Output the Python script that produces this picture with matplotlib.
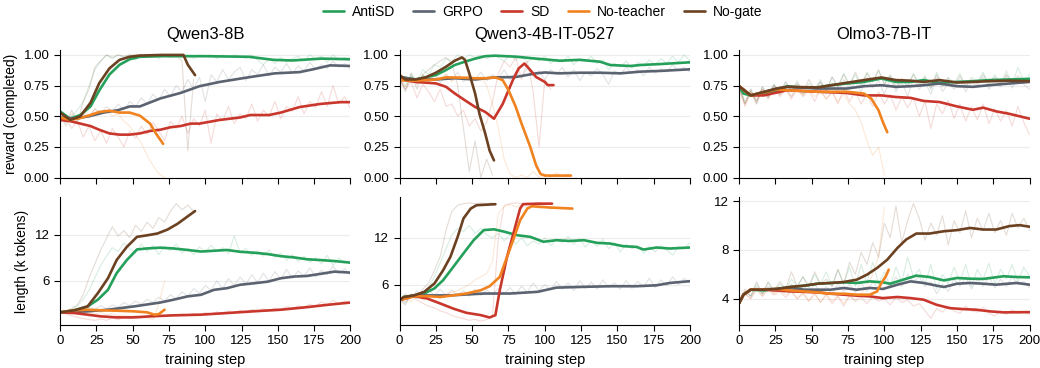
import numpy as np
import matplotlib
matplotlib.use('Agg')
import matplotlib.pyplot as plt

plt.rcParams['font.family'] = ['Liberation Sans', 'DejaVu Sans']

methods = ['AntiSD', 'GRPO', 'SD', 'No-teacher', 'No-gate']
colors = {'AntiSD': '#24a05a', 'GRPO': '#5b6270', 'SD': '#c9372c',
          'No-teacher': '#f0821f', 'No-gate': '#6b4121'}
models = ['Qwen3-8B', 'Qwen3-4B-IT-0527', 'Olmo3-7B-IT']

# ---- smoothed curves: (steps, values) ----
# reward (completed)
rew_smooth = {
    'Qwen3-8B': {
        'AntiSD': ([0, 7, 14, 21, 27, 34, 41, 48, 55, 70, 100, 130, 147, 160, 180, 200],
                   [0.54, 0.48, 0.51, 0.58, 0.71, 0.84, 0.92, 0.965, 0.985, 0.99, 0.99, 0.985, 0.96, 0.955, 0.97, 0.965]),
        'GRPO': ([0, 10, 20, 30, 40, 48, 55, 69, 83, 96, 110, 131, 148, 165, 175, 186, 200],
                 [0.49, 0.48, 0.50, 0.53, 0.55, 0.58, 0.58, 0.645, 0.69, 0.745, 0.78, 0.82, 0.85, 0.86, 0.885, 0.915, 0.91]),
        'SD': ([0, 7, 14, 21, 27, 34, 41, 48, 55, 62, 69, 76, 83, 90, 96, 110, 124, 131, 144, 152, 165, 179, 193, 200],
               [0.47, 0.46, 0.44, 0.42, 0.39, 0.36, 0.35, 0.35, 0.36, 0.38, 0.39, 0.41, 0.42, 0.44, 0.44, 0.47, 0.49, 0.51, 0.51, 0.53, 0.575, 0.60, 0.615, 0.615]),
        'No-teacher': ([0, 7, 14, 21, 27, 34, 41, 48, 55, 62, 66, 71],
                       [0.49, 0.47, 0.485, 0.51, 0.535, 0.545, 0.53, 0.53, 0.505, 0.44, 0.36, 0.275]),
        'No-gate': ([0, 7, 14, 21, 27, 34, 41, 48, 55, 70, 85, 88, 93],
                    [0.53, 0.47, 0.50, 0.61, 0.77, 0.89, 0.96, 0.985, 0.995, 1.0, 1.0, 0.92, 0.835]),
    },
    'Qwen3-4B-IT-0527': {
        'AntiSD': ([0, 11, 25, 32, 38, 45, 52, 59, 66, 80, 94, 100, 110, 124, 138, 145, 159, 166, 180, 200],
                   [0.82, 0.80, 0.836, 0.877, 0.918, 0.945, 0.97, 0.99, 0.994, 0.986, 0.97, 0.964, 0.953, 0.96, 0.945, 0.918, 0.91, 0.918, 0.926, 0.94]),
        'GRPO': ([0, 11, 25, 38, 52, 66, 80, 94, 100, 110, 124, 138, 152, 166, 180, 200],
                 [0.82, 0.80, 0.80, 0.81, 0.80, 0.817, 0.82, 0.85, 0.857, 0.85, 0.855, 0.855, 0.85, 0.864, 0.87, 0.883]),
        'SD': ([0, 11, 25, 32, 38, 45, 52, 59, 65, 71, 78, 82, 86, 90, 94, 100, 102, 106],
               [0.80, 0.78, 0.768, 0.74, 0.686, 0.63, 0.576, 0.535, 0.48, 0.60, 0.795, 0.89, 0.93, 0.877, 0.82, 0.78, 0.754, 0.754]),
        'No-teacher': ([0, 11, 25, 32, 45, 52, 59, 66, 71, 75, 80, 84, 90, 94, 97, 100, 118],
                       [0.795, 0.79, 0.80, 0.817, 0.814, 0.81, 0.81, 0.817, 0.795, 0.713, 0.576, 0.44, 0.25, 0.10, 0.03, 0.016, 0.016]),
        'No-gate': ([0, 4, 11, 18, 25, 32, 38, 43, 45, 48, 52, 55, 59, 62, 65],
                    [0.836, 0.80, 0.80, 0.817, 0.855, 0.904, 0.953, 0.98, 0.96, 0.85, 0.686, 0.52, 0.358, 0.22, 0.14]),
    },
    'Olmo3-7B-IT': {
        'AntiSD': ([0, 3, 8, 17, 26, 33, 42, 54, 63, 74, 86, 98, 108, 118, 127, 138, 150, 161, 172, 186, 200],
                   [0.745, 0.685, 0.67, 0.68, 0.71, 0.745, 0.735, 0.735, 0.753, 0.767, 0.78, 0.808, 0.78, 0.78, 0.795, 0.773, 0.78, 0.786, 0.795, 0.80, 0.805]),
        'GRPO': ([0, 8, 26, 33, 54, 74, 86, 98, 108, 118, 127, 138, 150, 161, 172, 186, 200],
                 [0.745, 0.67, 0.726, 0.74, 0.726, 0.726, 0.745, 0.753, 0.74, 0.745, 0.753, 0.767, 0.745, 0.74, 0.753, 0.767, 0.78]),
        'SD': ([0, 8, 17, 33, 54, 74, 86, 98, 108, 118, 127, 138, 150, 161, 168, 177, 186, 200],
               [0.745, 0.67, 0.67, 0.712, 0.70, 0.69, 0.67, 0.67, 0.657, 0.65, 0.625, 0.616, 0.58, 0.553, 0.57, 0.54, 0.52, 0.48]),
        'No-teacher': ([0, 8, 26, 33, 54, 74, 86, 91, 96, 99, 102],
                       [0.745, 0.67, 0.72, 0.712, 0.70, 0.70, 0.685, 0.644, 0.548, 0.452, 0.37]),
        'No-gate': ([0, 8, 26, 33, 54, 74, 86, 98, 108, 118, 127, 138, 150, 161, 172, 186, 200],
                    [0.745, 0.67, 0.726, 0.74, 0.735, 0.773, 0.795, 0.816, 0.795, 0.79, 0.78, 0.795, 0.775, 0.78, 0.786, 0.79, 0.786]),
    },
}

# length (k tokens)
len_smooth = {
    'Qwen3-8B': {
        'AntiSD': ([0, 10, 19, 26, 33, 39, 46, 53, 60, 69, 78, 88, 97, 106, 115, 124, 134, 143, 152, 161, 170, 179, 189, 200],
                   [1.93, 2.2, 2.7, 3.56, 4.84, 7.0, 8.7, 10.07, 10.2, 10.3, 10.2, 10.0, 9.8, 9.9, 10.0, 9.77, 9.64, 9.47, 9.2, 9.04, 8.8, 8.7, 8.57, 8.36]),
        'GRPO': ([0, 19, 33, 51, 69, 78, 88, 97, 106, 115, 124, 134, 143, 152, 161, 170, 179, 189, 200],
                 [1.93, 2.06, 2.27, 2.7, 3.2, 3.56, 4.0, 4.2, 4.84, 5.06, 5.5, 5.7, 5.9, 6.34, 6.56, 6.64, 6.9, 7.2, 7.07]),
        'SD': ([0, 10, 19, 28, 39, 51, 62, 78, 97, 115, 133, 152, 170, 184, 200],
               [1.93, 1.84, 1.63, 1.41, 1.28, 1.28, 1.41, 1.54, 1.63, 1.84, 2.06, 2.27, 2.6, 2.9, 3.2]),
        'No-teacher': ([0, 10, 19, 28, 39, 51, 60, 65, 68, 72],
                       [1.93, 2.2, 2.27, 2.2, 2.14, 2.06, 1.93, 1.63, 1.7, 2.27]),
        'No-gate': ([0, 10, 19, 26, 33, 39, 46, 53, 60, 67, 74, 81, 88, 93],
                    [1.93, 2.2, 2.7, 4.4, 6.34, 8.7, 10.4, 11.7, 11.9, 12.13, 12.64, 13.4, 14.36, 15.04]),
    },
    'Qwen3-4B-IT-0527': {
        'AntiSD': ([0, 3, 10, 17, 24, 30, 37, 44, 51, 58, 65, 72, 81, 90, 99, 108, 117, 127, 136, 145, 154, 163, 168, 177, 186, 200],
                   [4.0, 4.4, 4.6, 4.84, 5.5, 6.56, 8.27, 10.0, 11.7, 13.0, 13.1, 12.8, 12.34, 12.13, 11.5, 11.7, 11.6, 11.7, 11.36, 11.27, 10.93, 10.84, 10.5, 10.76, 10.63, 10.76]),
        'GRPO': ([0, 10, 24, 35, 58, 76, 95, 108, 127, 145, 163, 177, 186, 200],
                 [4.0, 4.6, 4.6, 4.6, 4.84, 4.84, 5.06, 5.6, 5.7, 5.78, 5.78, 5.9, 6.2, 6.43]),
        'SD': ([0, 10, 19, 28, 37, 46, 56, 62, 66, 69, 74, 79, 83, 85, 95, 105],
               [4.0, 4.5, 4.2, 3.56, 2.9, 2.36, 2.06, 1.76, 2.06, 5.27, 9.56, 13.0, 15.77, 16.33, 16.4, 16.4]),
        'No-teacher': ([0, 10, 19, 28, 37, 46, 56, 62, 69, 74, 79, 83, 88, 91, 104, 119],
                       [4.0, 4.5, 4.5, 4.4, 4.6, 4.84, 5.27, 5.78, 6.98, 9.56, 12.13, 14.27, 15.77, 16.07, 15.9, 15.77]),
        'No-gate': ([0, 3, 10, 17, 24, 30, 35, 40, 44, 49, 53, 66],
                    [4.0, 4.4, 4.6, 5.06, 6.13, 7.84, 9.56, 12.13, 14.5, 15.77, 16.2, 16.33]),
    },
    'Olmo3-7B-IT': {
        'AntiSD': ([0, 3, 8, 17, 26, 35, 45, 54, 63, 72, 81, 90, 99, 104, 113, 122, 131, 141, 150, 159, 168, 182, 191, 200],
                   [3.64, 4.33, 4.74, 4.68, 4.8, 4.96, 5.07, 5.23, 5.29, 5.34, 5.29, 5.42, 5.34, 5.23, 5.56, 5.89, 5.78, 5.5, 5.7, 5.64, 5.62, 5.84, 5.78, 5.75]),
        'GRPO': ([0, 3, 8, 26, 35, 45, 63, 72, 81, 90, 99, 109, 118, 127, 136, 141, 150, 159, 168, 177, 191, 200],
                 [3.64, 4.33, 4.74, 4.8, 4.88, 4.74, 4.74, 4.88, 4.74, 4.88, 4.8, 5.15, 5.42, 5.29, 5.07, 4.96, 5.23, 5.29, 5.23, 5.15, 5.29, 5.15]),
        'SD': ([0, 3, 8, 17, 35, 54, 63, 72, 81, 90, 99, 109, 118, 127, 136, 145, 154, 163, 173, 182, 200],
               [3.64, 4.33, 4.74, 4.74, 4.6, 4.52, 4.41, 4.33, 4.25, 4.19, 4.05, 4.14, 4.05, 3.92, 3.5, 3.23, 3.15, 3.1, 2.96, 2.88, 2.9]),
        'No-teacher': ([0, 3, 8, 17, 26, 35, 54, 63, 72, 81, 90, 95, 98, 101, 103],
                       [3.64, 4.33, 4.74, 4.74, 4.8, 4.68, 4.52, 4.41, 4.41, 4.33, 4.33, 4.6, 5.29, 5.84, 6.38]),
        'No-gate': ([0, 3, 8, 17, 26, 35, 45, 54, 63, 72, 81, 88, 95, 102, 109, 115, 122, 131, 141, 150, 159, 168, 177, 186, 193, 200],
                    [3.64, 4.33, 4.74, 4.74, 4.8, 4.96, 5.07, 5.23, 5.29, 5.37, 5.56, 5.97, 6.52, 7.2, 8.16, 8.85, 9.34, 9.34, 9.53, 9.62, 9.8, 9.67, 9.67, 9.95, 10.03, 9.9]),
    },
}

# ---- raw (unsmoothed) curves, every 4 steps ----
rew_raw = {
    'Qwen3-8B': {
        'AntiSD': [0.55, 0.46, 0.50, 0.55, 0.62, 0.75, 0.88, 0.95, 1.0, 0.97, 1.0, 0.98, 1.0, 0.96, 1.0, 0.99, 1.0, 0.97, 1.0, 0.99, 1.0, 0.98, 1.0, 0.97, 1.0, 0.99, 1.0, 0.97, 1.0, 0.98, 1.0, 0.99, 0.97, 1.0, 0.96, 0.92, 0.97, 0.93, 0.98, 0.94, 0.97, 0.99, 0.95, 1.0, 0.97, 0.99, 0.94, 1.0, 0.96, 0.98, 0.95],
        'GRPO': [0.49, 0.45, 0.50, 0.47, 0.52, 0.49, 0.56, 0.52, 0.58, 0.54, 0.60, 0.55, 0.62, 0.58, 0.65, 0.60, 0.68, 0.63, 0.72, 0.66, 0.75, 0.70, 0.80, 0.72, 0.82, 0.62, 0.84, 0.78, 0.88, 0.80, 0.86, 0.90, 0.79, 0.88, 0.84, 0.92, 0.83, 0.90, 0.86, 0.93, 0.85, 0.91, 0.87, 0.94, 0.88, 0.92, 0.89, 0.95, 0.90, 0.93, 0.88],
        'SD': [0.45, 0.48, 0.40, 0.46, 0.33, 0.42, 0.30, 0.38, 0.28, 0.40, 0.33, 0.25, 0.38, 0.32, 0.42, 0.35, 0.45, 0.38, 0.30, 0.46, 0.40, 0.50, 0.36, 0.48, 0.42, 0.55, 0.28, 0.52, 0.46, 0.58, 0.44, 0.52, 0.48, 0.60, 0.46, 0.55, 0.50, 0.62, 0.48, 0.58, 0.54, 0.66, 0.52, 0.62, 0.57, 0.70, 0.58, 0.75, 0.60, 0.66, 0.56],
        'No-teacher': [0.50, 0.45, 0.52, 0.48, 0.55, 0.50, 0.56, 0.52, 0.55, 0.50, 0.52, 0.46, 0.42, 0.35, 0.28, 0.18, 0.10, 0.03, 0.0],
        'No-gate': [0.53, 0.42, 0.55, 0.45, 0.62, 0.72, 0.90, 0.95, 1.0, 0.98, 1.0, 0.99, 1.0, 1.0, 1.0, 0.99, 1.0, 1.0, 1.0, 0.98, 1.0, 0.95, 0.22, 0.80],
    },
    'Qwen3-4B-IT-0527': {
        'AntiSD': [0.82, 0.75, 0.85, 0.78, 0.88, 0.84, 0.92, 0.90, 0.97, 0.95, 1.0, 0.97, 1.0, 0.98, 1.0, 0.97, 1.0, 0.98, 0.95, 1.0, 0.96, 0.99, 0.94, 0.98, 0.95, 0.99, 0.93, 0.97, 0.94, 0.99, 0.92, 0.97, 0.95, 0.99, 0.93, 0.96, 0.88, 0.93, 0.90, 0.95, 0.89, 0.94, 0.91, 0.96, 0.92, 0.97, 0.93, 0.99, 0.94, 1.0, 0.95],
        'GRPO': [0.80, 0.72, 0.83, 0.76, 0.84, 0.78, 0.85, 0.77, 0.84, 0.79, 0.86, 0.78, 0.83, 0.80, 0.86, 0.79, 0.84, 0.81, 0.88, 0.80, 0.86, 0.82, 0.89, 0.83, 0.87, 0.80, 0.88, 0.84, 0.90, 0.82, 0.88, 0.79, 0.86, 0.83, 0.89, 0.84, 0.76, 0.87, 0.84, 0.90, 0.85, 0.88, 0.83, 0.90, 0.85, 0.89, 0.86, 0.92, 0.87, 0.90, 0.86],
        'SD': [0.80, 0.72, 0.78, 0.65, 0.76, 0.70, 0.62, 0.72, 0.58, 0.60, 0.50, 0.55, 0.42, 0.48, 0.38, 0.45, 0.62, 0.85, 0.95, 0.90, 0.98, 0.80, 0.95, 0.70, 0.25, 0.80, 0.72],
        'No-teacher': [0.80, 0.74, 0.82, 0.76, 0.84, 0.78, 0.83, 0.80, 0.85, 0.78, 0.83, 0.80, 0.84, 0.79, 0.82, 0.75, 0.60, 0.40, 0.15, 0.03, 0.0, 0.02, 0.0, 0.05, 0.0, 0.03, 0.0, 0.04, 0.01, 0.03],
        'No-gate': [0.82, 0.70, 0.85, 0.72, 0.84, 0.88, 0.92, 0.95, 0.98, 0.93, 0.75, 0.40, 0.05, 0.30, 0.0, 0.15, 0.02],
    },
    'Olmo3-7B-IT': {
        'AntiSD': [0.75, 0.62, 0.72, 0.60, 0.74, 0.66, 0.76, 0.68, 0.78, 0.70, 0.79, 0.68, 0.77, 0.72, 0.80, 0.70, 0.82, 0.74, 0.85, 0.76, 0.84, 0.73, 0.86, 0.78, 0.87, 0.76, 0.84, 0.72, 0.80, 0.74, 0.85, 0.76, 0.83, 0.72, 0.86, 0.74, 0.82, 0.76, 0.85, 0.73, 0.82, 0.78, 0.86, 0.75, 0.84, 0.77, 0.87, 0.76, 0.90, 0.78, 0.84],
        'GRPO': [0.74, 0.60, 0.70, 0.62, 0.72, 0.65, 0.75, 0.68, 0.74, 0.66, 0.76, 0.68, 0.74, 0.70, 0.78, 0.68, 0.77, 0.70, 0.80, 0.72, 0.78, 0.70, 0.82, 0.73, 0.79, 0.68, 0.80, 0.70, 0.78, 0.66, 0.80, 0.72, 0.78, 0.68, 0.82, 0.70, 0.77, 0.72, 0.80, 0.70, 0.78, 0.74, 0.82, 0.72, 0.79, 0.74, 0.83, 0.73, 0.81, 0.76, 0.72],
        'SD': [0.72, 0.58, 0.70, 0.60, 0.72, 0.64, 0.74, 0.66, 0.72, 0.64, 0.73, 0.66, 0.71, 0.62, 0.72, 0.64, 0.70, 0.60, 0.72, 0.62, 0.70, 0.60, 0.68, 0.58, 0.70, 0.60, 0.68, 0.55, 0.66, 0.57, 0.65, 0.50, 0.62, 0.40, 0.60, 0.52, 0.63, 0.48, 0.60, 0.46, 0.58, 0.47, 0.60, 0.44, 0.56, 0.46, 0.55, 0.42, 0.58, 0.45, 0.35],
        'No-teacher': [0.72, 0.60, 0.70, 0.62, 0.72, 0.66, 0.73, 0.67, 0.72, 0.66, 0.71, 0.67, 0.72, 0.66, 0.70, 0.64, 0.70, 0.62, 0.68, 0.60, 0.55, 0.45, 0.30, 0.18, 0.25, 0.02],
        'No-gate': [0.75, 0.60, 0.72, 0.63, 0.74, 0.66, 0.76, 0.69, 0.78, 0.70, 0.77, 0.70, 0.80, 0.72, 0.78, 0.71, 0.82, 0.74, 0.84, 0.75, 0.86, 0.76, 0.85, 0.78, 0.88, 0.76, 0.83, 0.74, 0.81, 0.75, 0.84, 0.74, 0.82, 0.73, 0.84, 0.75, 0.81, 0.74, 0.83, 0.75, 0.80, 0.76, 0.84, 0.77, 0.82, 0.76, 0.84, 0.78, 0.83, 0.77, 0.80],
    },
}

len_raw = {
    'Qwen3-8B': {
        'AntiSD': [1.9, 2.1, 2.3, 2.8, 3.6, 4.8, 6.4, 8.0, 9.2, 10.3, 9.8, 10.9, 10.2, 9.6, 10.8, 9.8, 10.6, 9.4, 10.5, 9.9, 10.8, 9.6, 10.2, 9.4, 10.4, 9.7, 10.6, 9.8, 10.3, 9.5, 11.8, 9.6, 10.2, 9.3, 9.9, 9.2, 10.0, 9.0, 9.6, 8.7, 9.4, 8.5, 9.2, 8.4, 9.0, 8.2, 9.3, 8.0, 9.0, 8.3, 8.6],
        'GRPO': [1.9, 2.0, 2.2, 2.4, 2.1, 2.6, 2.3, 2.8, 2.4, 2.9, 2.6, 3.2, 2.8, 3.4, 3.0, 3.6, 3.2, 3.9, 3.4, 4.2, 3.7, 4.6, 4.0, 5.0, 4.4, 5.4, 4.8, 6.0, 5.0, 6.3, 5.4, 6.5, 5.6, 6.8, 5.8, 7.0, 6.0, 7.2, 6.2, 7.5, 6.3, 7.3, 6.6, 7.7, 6.5, 7.4, 6.8, 7.9, 6.9, 7.6, 6.7],
        'SD': [1.9, 1.7, 1.5, 1.3, 1.1, 1.0, 0.9, 1.1, 0.9, 1.2, 1.0, 1.3, 1.1, 1.4, 1.2, 1.5, 1.3, 1.6, 1.4, 1.7, 1.5, 1.7, 1.6, 1.8, 1.6, 1.9, 1.7, 2.0, 1.8, 2.1, 1.9, 2.2, 2.0, 2.3, 2.1, 2.4, 2.2, 2.5, 2.3, 2.7, 2.4, 2.8, 2.6, 3.0, 2.7, 3.3, 2.9, 3.5, 3.0, 3.4, 3.1],
        'No-teacher': [1.9, 2.1, 1.8, 2.2, 1.8, 2.0, 1.7, 1.9, 1.6, 1.8, 1.5, 1.6, 1.4, 1.5, 1.3, 1.2, 1.0, 3.0, 6.0],
        'No-gate': [1.9, 2.0, 2.4, 2.9, 4.2, 6.4, 8.2, 10.0, 11.5, 13.0, 11.8, 12.5, 11.6, 13.2, 12.4, 13.6, 12.8, 14.2, 13.6, 15.0, 16.0, 15.2, 15.8, 15.0],
    },
    'Qwen3-4B-IT-0527': {
        'AntiSD': [4.0, 3.6, 4.6, 4.2, 5.0, 5.6, 7.0, 8.8, 10.6, 12.4, 13.2, 12.8, 13.6, 12.6, 13.2, 12.4, 12.0, 12.6, 11.6, 12.4, 11.2, 12.0, 11.0, 11.6, 11.2, 12.0, 11.0, 11.8, 11.4, 12.2, 11.2, 11.9, 10.8, 11.6, 10.9, 11.8, 10.6, 11.4, 10.2, 11.2, 10.6, 11.0, 10.0, 10.9, 10.2, 11.0, 10.4, 9.8, 10.9, 10.6, 11.4],
        'GRPO': [4.0, 4.8, 4.3, 5.2, 4.4, 5.3, 4.6, 5.4, 4.5, 5.3, 4.6, 5.2, 4.5, 5.4, 4.6, 5.3, 4.7, 5.5, 4.8, 5.6, 4.7, 5.8, 5.0, 6.2, 5.2, 6.0, 5.3, 6.4, 5.4, 6.2, 5.2, 6.5, 5.5, 6.3, 5.4, 6.6, 5.6, 6.2, 5.4, 6.5, 5.5, 6.4, 5.7, 6.8, 5.6, 6.6, 5.8, 7.0, 6.0, 6.8, 6.2],
        'SD': [4.0, 3.8, 4.6, 4.0, 3.6, 3.2, 3.0, 2.6, 2.4, 2.0, 1.8, 1.6, 1.4, 1.5, 1.3, 1.5, 2.0, 12.0, 16.2, 16.4, 16.5, 16.4, 16.5, 16.4, 16.5, 16.4, 16.5],
        'No-teacher': [4.0, 4.4, 3.8, 4.6, 4.0, 4.4, 4.6, 4.2, 4.8, 5.0, 5.2, 5.6, 6.0, 6.6, 7.0, 7.4, 9.0, 15.2, 16.0, 16.3, 16.0, 16.2, 15.9, 16.1, 15.8, 16.0, 15.7, 15.9, 15.7, 15.8],
        'No-gate': [4.0, 3.4, 4.8, 4.4, 5.4, 6.2, 7.8, 9.6, 13.0, 15.4, 16.2, 16.4, 16.5, 16.4, 16.5, 16.4, 16.5],
    },
    'Olmo3-7B-IT': {
        'AntiSD': [3.6, 4.6, 4.2, 5.2, 4.4, 5.3, 4.6, 5.2, 4.8, 5.6, 5.0, 5.8, 4.9, 6.0, 5.2, 6.2, 5.0, 6.4, 5.2, 6.6, 5.0, 6.8, 5.3, 7.0, 5.2, 6.2, 5.0, 6.6, 5.4, 7.4, 5.8, 6.4, 5.2, 6.8, 4.8, 6.0, 5.2, 6.6, 5.4, 6.8, 5.0, 6.4, 5.6, 6.9, 5.2, 6.4, 5.6, 6.8, 5.4, 6.6, 5.8],
        'GRPO': [3.6, 4.6, 4.2, 5.0, 4.4, 5.0, 4.5, 5.0, 4.6, 5.2, 4.5, 5.1, 4.6, 5.2, 4.5, 5.0, 4.4, 5.2, 4.6, 5.2, 4.5, 5.3, 4.6, 5.4, 4.8, 5.6, 4.9, 5.8, 5.0, 6.0, 5.4, 5.8, 5.0, 5.4, 4.4, 5.2, 4.6, 5.6, 5.0, 5.8, 4.8, 5.6, 5.0, 5.8, 4.9, 5.6, 5.0, 5.8, 5.2, 5.4, 4.9],
        'SD': [3.6, 4.4, 4.0, 4.8, 4.2, 4.8, 4.3, 4.6, 4.1, 4.6, 4.0, 4.5, 3.8, 4.4, 3.7, 4.3, 3.6, 4.2, 3.4, 4.2, 3.8, 4.1, 3.6, 4.2, 3.8, 4.0, 3.5, 4.1, 3.7, 3.9, 3.4, 3.6, 3.0, 2.4, 3.2, 2.9, 3.4, 3.0, 2.8, 3.4, 3.0, 2.9, 3.3, 2.8, 2.6, 3.0, 2.7, 3.1, 2.8, 2.9, 2.7],
        'No-teacher': [3.6, 4.4, 4.0, 4.8, 4.2, 4.8, 4.4, 4.8, 4.3, 4.6, 4.0, 4.4, 3.8, 4.5, 3.7, 4.4, 3.8, 4.2, 3.6, 4.3, 3.9, 4.4, 5.0, 6.0, 7.5, 11.5],
        'No-gate': [3.6, 4.8, 4.2, 5.4, 4.4, 5.4, 4.6, 5.4, 4.8, 6.2, 5.0, 5.8, 5.0, 6.2, 5.2, 5.6, 5.0, 6.4, 5.2, 7.0, 6.0, 7.8, 6.8, 8.6, 7.4, 10.2, 9.0, 11.6, 8.6, 10.4, 11.8, 10.6, 8.8, 10.2, 9.2, 10.8, 8.4, 10.4, 9.4, 11.2, 9.0, 10.6, 9.6, 11.0, 9.4, 10.4, 9.2, 11.0, 9.8, 10.6, 9.6],
    },
}

len_ylims = {'Qwen3-8B': (0.3, 16.8), 'Qwen3-4B-IT-0527': (0.8, 17.2), 'Olmo3-7B-IT': (1.85, 12.3)}
len_yticks = {'Qwen3-8B': [6, 12], 'Qwen3-4B-IT-0527': [6, 12], 'Olmo3-7B-IT': [4, 8, 12]}


def style_ax(ax):
    for s in ['top', 'right']:
        ax.spines[s].set_visible(False)
    ax.spines['left'].set_linewidth(0.8)
    ax.spines['bottom'].set_linewidth(0.8)
    ax.tick_params(direction='out', length=4, width=0.8, labelsize=9.5, colors='black')
    ax.grid(axis='y', color='#ececec', linewidth=0.8)
    ax.set_axisbelow(True)
    ax.set_xlim(0, 200)
    ax.set_xticks(np.arange(0, 201, 25))


fig, axes = plt.subplots(2, 3, figsize=(10.4, 3.68), dpi=100)
fig.subplots_adjust(left=0.0577, right=0.99, top=0.864, bottom=0.117, wspace=0.169, hspace=0.156)

for j, m in enumerate(models):
    ax_r = axes[0, j]
    ax_l = axes[1, j]
    for meth in methods:
        c = colors[meth]
        raw = rew_raw[m][meth]
        ax_r.plot(np.arange(len(raw)) * 4, raw, color=c, lw=0.8, alpha=0.18)
        raw = len_raw[m][meth]
        ax_l.plot(np.arange(len(raw)) * 4, raw, color=c, lw=0.8, alpha=0.18)
    for meth in methods:
        c = colors[meth]
        xs, ys = rew_smooth[m][meth]
        ax_r.plot(xs, ys, color=c, lw=1.9, label=meth, solid_capstyle='round')
        xs, ys = len_smooth[m][meth]
        ax_l.plot(xs, ys, color=c, lw=1.9, solid_capstyle='round')

    style_ax(ax_r)
    style_ax(ax_l)
    ax_r.set_ylim(0, 1.04)
    ax_r.set_yticks([0, 0.25, 0.5, 0.75, 1.0])
    ax_r.set_yticklabels(['0.00', '0.25', '0.50', '0.75', '1.00'])
    ax_r.set_xticklabels([])
    ax_r.set_title(m, fontsize=12, pad=8)
    ax_l.set_ylim(*len_ylims[m])
    ax_l.set_yticks(len_yticks[m])
    ax_l.set_xlabel('training step', fontsize=10.5)

axes[0, 0].set_ylabel('reward (completed)', fontsize=10)
axes[1, 0].set_ylabel('length (k tokens)', fontsize=10)

handles, labels = axes[0, 0].get_legend_handles_labels()
fig.legend(handles, labels, loc='upper center', bbox_to_anchor=(0.522, 1.02), ncol=5,
           frameon=False, fontsize=10, handlelength=1.5, handletextpad=0.6, columnspacing=1.3)

fig.savefig('out.png', dpi=100)
